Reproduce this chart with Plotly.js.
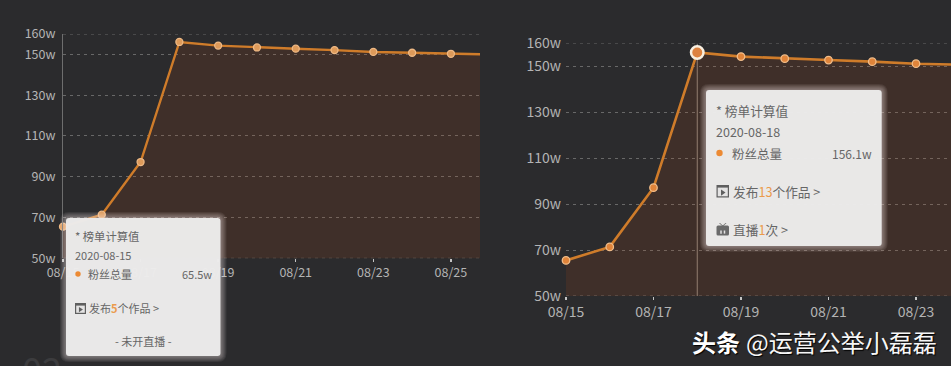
<!DOCTYPE html>
<html><head><meta charset="utf-8">
<script src="https://cdn.plot.ly/plotly-3.0.1.min.js"></script>
<style>html,body{margin:0;padding:0;background:#2b2b2d;overflow:hidden}#c{width:951px;height:366px}</style>
</head><body><div id="c"></div>
<script>
const dates = ['2020-08-15','2020-08-16','2020-08-17','2020-08-18','2020-08-19','2020-08-20','2020-08-21','2020-08-22','2020-08-23','2020-08-24','2020-08-25','2020-08-26'];
const fans = [65.5,71.4,97.2,156.1,154.3,153.4,152.8,152.1,151.2,150.8,150.3,150.0];
const yTicks = [50,70,90,110,130,150,160];
const yLabels = ['50w','70w','90w','110w','130w','150w','160w'];
const xTickDates = ['2020-08-15','2020-08-17','2020-08-19','2020-08-21','2020-08-23','2020-08-25'];
const xTickLabels = ['08/15','08/17','08/19','08/21','08/23','08/25'];
const tipHead = '* 榜单计算值';
const seriesName = '粉丝总量';

const W=951,H=366;
const px=x=>x/W, py=y=>1-y/H;
const BG='#2b2b2d', LINE='#cf7c2a', FILL='rgba(190,76,23,0.14)', TIP='#666666', HL='#eb9a4c', GRID='#686868';

function chartTraces(xa,ya,lastMarker,lineW,mSize,mFill,mBorder){
  return [
    {x:dates,y:fans,xaxis:xa,yaxis:ya,type:'scatter',mode:'lines',fill:'tozeroy',fillcolor:FILL,
     line:{color:LINE,width:lineW},hoverinfo:'skip',showlegend:false},
    {x:dates.slice(0,lastMarker),y:fans.slice(0,lastMarker),xaxis:xa,yaxis:ya,type:'scatter',mode:'markers',cliponaxis:false,
     marker:{size:mSize,color:mFill,line:{color:mBorder,width:1.3}},hoverinfo:'skip',showlegend:false}
  ];
}
const data=[
  ...chartTraces('x','y',11,2.4,7,'#dd9a5a','#eeb985'),
  ...chartTraces('x2','y2',9,2.6,7.5,'#e0843a','#f0bd8a'),
  {x:[dates[3]],y:[fans[3]],xaxis:'x2',yaxis:'y2',type:'scatter',mode:'markers',cliponaxis:false,
   marker:{size:12.5,color:'#dd8240',line:{color:'#f8efe0',width:2.5}},hoverinfo:'skip',showlegend:false}
];

function xAxis(domain,range,fs){return {domain,range,type:'date',tickmode:'array',tickvals:xTickDates,ticktext:xTickLabels,
  ticks:'outside',ticklen:3,tickwidth:1.5,tickcolor:'#c4c4c4',showgrid:false,zeroline:false,showline:false,
  tickfont:{family:'"Noto Sans CJK SC","Noto Sans",sans-serif',size:fs,color:'#b4b4b4'}};}
function yAxis(domain,anchor,fs,showline){return {domain,anchor,range:[50,160],tickmode:'array',tickvals:yTicks,ticktext:yLabels,
  ticks:'',showgrid:true,gridcolor:GRID,griddash:'3px,4px',gridwidth:1,zeroline:false,showline,linecolor:'#6e6e6e',linewidth:1,
  ticklabelstandoff:4,tickfont:{family:'"Noto Sans CJK SC","Noto Sans",sans-serif',size:fs,color:'#b4b4b4'}};}

function rr(x0,y0,x1,y1,r){
  const P=(x,y)=>px(x)+','+py(y);
  return 'M'+P(x0+r,y0)+' L'+P(x1-r,y0)+' Q'+P(x1,y0)+' '+P(x1,y0+r)+' L'+P(x1,y1-r)+' Q'+P(x1,y1)+' '+P(x1-r,y1)+
    ' L'+P(x0+r,y1)+' Q'+P(x0,y1)+' '+P(x0,y1-r)+' L'+P(x0,y0+r)+' Q'+P(x0,y0)+' '+P(x0+r,y0)+' Z';
}
function pathShape(path,fill,layer){return {type:'path',xref:'paper',yref:'paper',path,fillcolor:fill,line:{width:0},layer:layer||'above'};}
function tipBox(x0,y0,x1,y1){
  const out=[];
  for(let g=6;g>=1;g--) out.push(pathShape(rr(x0-g,y0-g,x1+g,y1+g,3+g),'rgba(250,245,235,0.075)'));
  out.push(pathShape(rr(x0,y0,x1,y1,3),'rgba(236,235,235,0.97)'));
  return out;
}
function poly(pts){return 'M'+pts.map(p=>px(p[0])+','+py(p[1])).join(' L')+' Z';}
function playIcon(x,y,w,h){return [
  pathShape(poly([[x,y],[x+w,y],[x+w,y+h],[x,y+h]]),'#5f5f5f'),
  pathShape(poly([[x+1.2,y+2.6],[x+w-1.2,y+2.6],[x+w-1.2,y+h-1.2],[x+1.2,y+h-1.2]]),'#e4e3e3'),
  pathShape(poly([[x+w*0.36,y+h*0.36],[x+w*0.72,y+h*0.6],[x+w*0.36,y+h*0.85]]),'#5f5f5f')];}
function tvIcon(x,y,w,h){return [
  pathShape(rr(x,y+2.5,x+w,y+h,1.5),'#6a6a6a'),
  pathShape(poly([[x+2.5,y],[x+3.5,y],[x+w/2+0.5,y+3],[x+w/2-0.5,y+3]]),'#6a6a6a'),
  pathShape(poly([[x+w-2.5,y],[x+w-3.5,y],[x+w/2-0.5,y+3],[x+w/2+0.5,y+3]]),'#6a6a6a'),
  pathShape(poly([[x+w*0.3,y+h*0.6],[x+w*0.42,y+h*0.6],[x+w*0.42,y+h*0.85],[x+w*0.3,y+h*0.85]]),'#e4e3e3'),
  pathShape(poly([[x+w*0.58,y+h*0.6],[x+w*0.7,y+h*0.6],[x+w*0.7,y+h*0.85],[x+w*0.58,y+h*0.85]]),'#e4e3e3')];}
function dot(cx,cy,r){return {type:'circle',xref:'paper',yref:'paper',x0:px(cx-r),x1:px(cx+r),y0:py(cy+r),y1:py(cy-r),fillcolor:'#ec8a34',line:{width:0},layer:'above'};}
function edgeGrid(xa,ya,v){return {type:'line',xref:xa+' domain',yref:ya,x0:0,x1:1,y0:v,y1:v,line:{color:GRID,width:1,dash:'3px,4px'},layer:'below'};}

const shapes=[
  edgeGrid('x','y',yTicks[0]),edgeGrid('x','y',yTicks[6]),
  edgeGrid('x2','y2',yTicks[0]),edgeGrid('x2','y2',yTicks[6]),
  {type:'line',xref:'x2',yref:'y2',x0:dates[3],x1:dates[3],y0:50,y1:160,line:{color:'#8c8780',width:1},layer:'below'},
  ...tipBox(66,218,220.5,356),
  dot(78,274,2.7),
  ...playIcon(75,303,11,11),
  ...tipBox(706,90,881.7,246),
  dot(719.5,153,3.2),
  ...playIcon(716.5,185,12.5,12.5),
  ...tvIcon(716.5,223,12.5,12.5),
];

const F='"Noto Sans CJK SC","Noto Sans",sans-serif';
function note(x,y,text,size,color,anchor,extra){return Object.assign({xref:'paper',yref:'paper',x:px(x),y:py(y),text,showarrow:false,
  xanchor:anchor||'left',yanchor:'middle',borderpad:0,borderwidth:0,font:{family:F,size,color}},extra||{});}
const hl=s=>'<span style="color:'+HL+'">'+s+'</span>';
const annotations=[
  note(22,368,'02',36,'#3c3c3e','left'),
  note(75,236,tipHead,11.3,TIP),
  note(75,255,'2020-08-15',11,TIP),
  note(88,274,seriesName,11,TIP),
  note(212,274,'65.5w',11,TIP,'right'),
  note(89,308,'发布<b>'+hl('5')+'</b>个作品 &gt;',11,TIP),
  note(143,341,'- 未开直播 -',11,TIP,'center'),
  note(716,110,tipHead,12.7,TIP),
  note(716,132,'2020-08-18',12.5,TIP),
  note(732,153,seriesName,12.5,TIP),
  note(871.5,153,'156.1w',12,TIP,'right'),
  note(733,191,'发布'+hl('13')+'个作品 &gt;',12.7,TIP),
  note(733,229,'直播'+hl('1')+'次 &gt;',12.7,TIP),
  note(692,341,'<b>头条</b>',24,'#ffffff','left',{font:{family:F,size:24,color:'#ffffff',shadow:'1px 1px 1px #000'}}),
  note(746,341,'@运营公举小磊磊',24,'#ffffff','left',{font:{family:F,size:24,color:'#f6f6f6',shadow:'1px 1px 1px #000'}}),
];

const layout={width:W,height:H,autosize:false,margin:{l:0,r:0,t:0,b:0},paper_bgcolor:BG,plot_bgcolor:BG,showlegend:false,hovermode:false,
  xaxis:Object.assign(xAxis([px(63),px(480)],['2020-08-15','2020-08-25 18:00'],12.5),{anchor:'y'}),
  yaxis:yAxis([py(258.3),py(34)],'x',12.5,true),
  xaxis2:Object.assign(xAxis([px(566),1],['2020-08-15','2020-08-23 19:12'],14),{anchor:'y2'}),
  yaxis2:yAxis([py(296),py(43.5)],'x2',14,false),
  shapes,annotations};
Plotly.newPlot('c',data,layout,{displayModeBar:false,staticPlot:true});
</script></body></html>
